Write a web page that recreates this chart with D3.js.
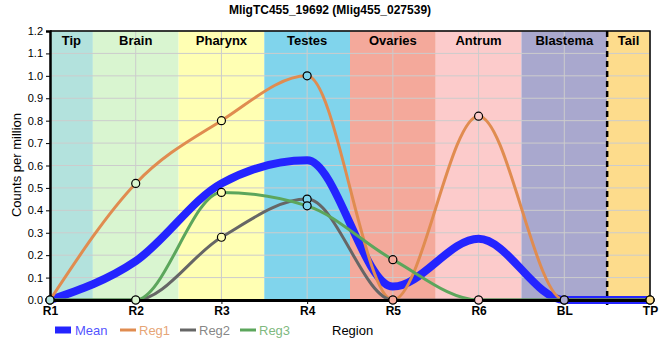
<!DOCTYPE html>
<html>
<head>
  <meta http-equiv="Content-Type" content="text/html;charset=utf-8" />
  <script src="https://cdn.jsdelivr.net/npm/d3@7"></script>
  <style type="text/css">
    body { margin: 0; background: #fff; }
    text { font-family: "Liberation Sans", Arial, sans-serif; }
    .grid line { stroke: #cccccc; stroke-width: 1; }
    .tick text { fill: #000; }
  </style>
</head>
<body>
  <svg id="c" width="660" height="360"></svg>
  <script>
    // chart data
    const regions = ["R1", "R2", "R3", "R4", "R5", "R6", "BL", "TP"];
    const bandNames = ["Tip", "Brain", "Pharynx", "Testes", "Ovaries", "Antrum", "Blastema", "Tail"];
    const bandColors = ["#b3e2dd", "#d9f5d0", "#ffffb3", "#80d4ec", "#f4a99b", "#fccbcb", "#a9a8ce", "#fddc8c"];
    const yTicks = [0, 0.1, 0.2, 0.3, 0.4, 0.5, 0.6, 0.7, 0.8, 0.9, 1.0, 1.1, 1.2];

    const reg1 = [0, 0.52, 0.80, 1.00, 0, 0.82, 0, 0];
    const reg2 = [0, 0, 0.28, 0.45, 0, 0, 0, 0];
    const reg3 = [0, 0, 0.48, 0.42, 0.18, 0, 0, 0];
    // mean of the three replicates
    const mean = regions.map((_, i) => (reg1[i] + reg2[i] + reg3[i]) / 3);

    const seriesNames = ["Mean", "Reg1", "Reg2", "Reg3"];
    const seriesColors = ["#2424ff", "#e08c50", "#666666", "#5ca65c"];

    const title = "MligTC455_19692 (Mlig455_027539)";

    /***** layout *****/
    const svg = d3.select("#c");
    const pLeft = 50, pRight = 650, pTop = 31, pBottom = 300;

    const x = d3.scalePoint().domain(regions).range([pLeft, pRight]);
    const xi = d3.scaleLinear().domain([0, regions.length - 1]).range([pLeft, pRight]);
    const y = d3.scaleLinear().domain([0, 1.2]).range([pBottom, pTop]);

    // background bands, one per region, split half way between points
    const bands = bandNames.map((name, i) => ({
      name: name,
      color: bandColors[i],
      x0: xi(Math.max(0, i - 0.5)),
      x1: xi(Math.min(regions.length - 1, i + 0.5))
    }));

    svg.append("g").selectAll("rect")
      .data(bands)
      .join("rect")
      .attr("x", d => d.x0)
      .attr("y", pTop)
      .attr("width", d => d.x1 - d.x0)
      .attr("height", pBottom - pTop)
      .attr("fill", d => d.color);

    // grid
    const grid = svg.append("g").attr("class", "grid");
    grid.selectAll(".h")
      .data(yTicks)
      .join("line")
      .attr("class", "h")
      .attr("x1", pLeft).attr("x2", pRight)
      .attr("y1", d => y(d)).attr("y2", d => y(d));
    grid.selectAll(".v")
      .data(regions)
      .join("line")
      .attr("class", "v")
      .attr("x1", d => x(d)).attr("x2", d => x(d))
      .attr("y1", pTop).attr("y2", pBottom);

    // band labels
    svg.append("g").selectAll("text")
      .data(bands)
      .join("text")
      .attr("x", d => (d.x0 + d.x1) / 2)
      .attr("y", 45)
      .attr("text-anchor", "middle")
      .attr("font-size", 13)
      .attr("font-weight", "bold")
      .text(d => d.name);

    // dashed separator before the tail
    const tailStart = bands[bands.length - 1].x0;
    svg.append("line")
      .attr("x1", tailStart).attr("x2", tailStart)
      .attr("y1", pTop).attr("y2", pBottom + 5)
      .attr("stroke", "#000")
      .attr("stroke-width", 2.5)
      .attr("stroke-dasharray", "6,4");

    // frame top and right
    svg.append("path")
      .attr("d", `M${pLeft},${pTop}H${pRight}V${pBottom}`)
      .attr("fill", "none")
      .attr("stroke", "#000")
      .attr("stroke-width", 1.5);

    // series lines
    const line = d3.line()
      .x((d, i) => x(regions[i]))
      .y(d => y(d))
      .curve(d3.curveMonotoneX);

    const allSeries = [mean, reg1, reg2, reg3];
    const widths = [8, 3, 3, 3];

    svg.append("g").selectAll("path")
      .data(allSeries)
      .join("path")
      .attr("d", line)
      .attr("fill", "none")
      .attr("stroke", (d, i) => seriesColors[i])
      .attr("stroke-width", (d, i) => widths[i])
      .attr("stroke-linejoin", "round")
      .attr("stroke-linecap", "round");

    // axes
    const yAxis = svg.append("g")
      .attr("transform", `translate(${pLeft},0)`)
      .call(d3.axisLeft(y).tickValues(yTicks).tickFormat(d3.format(".1f")).tickSize(4).tickPadding(3));
    yAxis.select(".domain").attr("stroke-width", 2.5);
    yAxis.selectAll(".tick text").attr("font-size", 11).attr("font-family", "\"Liberation Sans\", Arial, sans-serif");

    const xAxis = svg.append("g")
      .attr("transform", `translate(0,${pBottom})`)
      .call(d3.axisBottom(x).tickSize(4).tickPadding(2));
    xAxis.select(".domain").attr("stroke-width", 3);
    xAxis.selectAll(".tick text")
      .attr("font-size", 12)
      .attr("font-weight", "bold")
      .attr("font-family", "Roboto, sans-serif");

    // data point markers, filled with the band colour under them
    const markers = [reg1, reg2, reg3].flatMap(s => s.map((v, i) => ({ i: i, v: v })));
    svg.append("g").selectAll("circle")
      .data(markers)
      .join("circle")
      .attr("cx", d => x(regions[d.i]))
      .attr("cy", d => y(d.v))
      .attr("r", 4)
      .attr("fill", d => bandColors[d.i])
      .attr("stroke", "#000")
      .attr("stroke-width", 1.2);

    // title
    svg.append("text")
      .attr("x", 330)
      .attr("y", 14)
      .attr("text-anchor", "middle")
      .attr("font-size", 12)
      .attr("font-weight", "bold")
      .text(title);

    // y title
    svg.append("text")
      .attr("transform", "translate(21,165) rotate(-90)")
      .attr("text-anchor", "middle")
      .attr("font-size", 13)
      .text("Counts per million");

    // legend
    const legendX = [55, 120, 180, 240];
    const legend = svg.append("g");
    seriesNames.forEach((name, i) => {
      const g = legend.append("g").attr("transform", `translate(${legendX[i]},330)`);
      g.append("line")
        .attr("x1", 0).attr("x2", 16)
        .attr("stroke", seriesColors[i])
        .attr("stroke-width", i === 0 ? 7 : 3);
      g.append("text")
        .attr("x", i === 0 ? 20 : 19)
        .attr("y", 5)
        .attr("font-size", 13)
        .attr("font-family", "Roboto, sans-serif")
        .attr("fill", seriesColors[i])
        .attr("fill-opacity", 0.8)
        .text(name);
    });

    svg.append("text")
      .attr("x", 332)
      .attr("y", 335)
      .attr("font-size", 13)
      .attr("font-family", "Roboto, sans-serif")
      .text("Region");
  </script>
</body>
</html>
